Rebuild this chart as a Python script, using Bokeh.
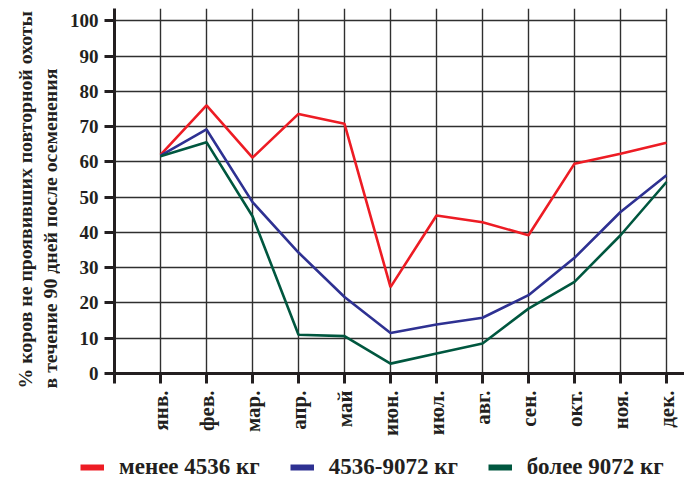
import math
from bokeh.plotting import figure
from bokeh.layouts import column, row
from bokeh.models import FixedTicker, Range1d, Legend, LegendItem, Label, ColumnDataSource
from bokeh.embed import file_html
from bokeh.resources import INLINE

# ---- data ----
months = ["янв.", "фев.", "мар.", "апр.", "май", "июн.", "июл.", "авг.", "сен.", "окт.", "ноя.", "дек."]
month_pos = list(range(1, 13))
less_4536 = [62.0, 76.0, 61.2, 73.6, 70.8, 24.5, 44.8, 42.9, 39.2, 59.5, 62.3, 65.4]
mid_4536_9072 = [61.8, 69.2, 48.6, 34.3, 21.7, 11.5, 13.9, 15.8, 22.2, 32.8, 45.8, 56.2]
over_9072 = [61.6, 65.6, 44.6, 11.0, 10.6, 2.8, 5.7, 8.5, 18.4, 26.0, 39.2, 54.3]
series_names = ["менее 4536 кг", "4536-9072 кг", "более 9072 кг"]
y_ticks = list(range(0, 101, 10))
y_title_lines = ["% коров не проявивших повторной охоты", "в течение 90 дней после осеменения"]

# ---- styles ----
FONT = "Liberation Serif"
INK = "#231f20"
colors = ["#ed1c24", "#2e3192", "#00573f"]


def bare_figure(w, h):
    f = figure(width=w, height=h, output_backend="svg", toolbar_location=None,
               x_range=Range1d(0, 1), y_range=Range1d(0, 1),
               x_axis_type=None, y_axis_type=None,
               min_border_left=0, min_border_right=0, min_border_top=0, min_border_bottom=0)
    f.outline_line_color = None
    f.xgrid.visible = False
    f.ygrid.visible = False
    f.frame_align = False
    return f


# ---- main chart ----
p = figure(width=624, height=452, output_backend="svg", toolbar_location=None,
           x_range=Range1d(0, 12.391), y_range=Range1d(0, 103.49),
           min_border_left=54, min_border_right=0, min_border_top=8, min_border_bottom=79)
p.outline_line_color = None
p.background_fill_color = "white"
p.frame_align = False

src = ColumnDataSource(dict(x=month_pos, a=less_4536, b=mid_4536_9072, c=over_9072))

for col, color in zip(["a", "b", "c"], colors):
    p.line("x", col, source=src, line_color=color, line_width=2.6)

# grids
p.xgrid.ticker = FixedTicker(ticks=[0] + month_pos)
p.ygrid.ticker = FixedTicker(ticks=y_ticks)
for g in (p.xgrid[0], p.ygrid[0]):
    g.grid_line_color = "#2f2f2f"
    g.grid_line_width = 1.4
p.ygrid[0].cross_bounds = (0, 12)

# x axis
xa = p.xaxis[0]
xa.ticker = FixedTicker(ticks=[0] + month_pos)
overrides = {0: ""}
for i, m in zip(month_pos, months):
    overrides[i] = m
xa.major_label_overrides = overrides
xa.major_label_orientation = math.pi / 2
xa.axis_line_width = 3
xa.axis_line_color = INK
xa.major_tick_line_width = 3
xa.major_tick_line_color = INK
xa.major_tick_out = 10
xa.major_tick_in = 0
xa.minor_tick_line_color = None
xa.major_label_standoff = 7
xa.major_label_text_font = FONT
xa.major_label_text_font_style = "bold"
xa.major_label_text_font_size = "21px"
xa.major_label_text_color = INK

# y axis
ya = p.yaxis[0]
ya.ticker = FixedTicker(ticks=y_ticks)
ya.axis_line_width = 3
ya.axis_line_color = INK
ya.major_tick_line_width = 3
ya.major_tick_line_color = INK
ya.major_tick_out = 10
ya.major_tick_in = 0
ya.minor_tick_line_color = None
ya.major_label_standoff = 6
ya.major_label_text_font = FONT
ya.major_label_text_font_style = "bold"
ya.major_label_text_font_size = "19px"
ya.major_label_text_color = INK

# ---- y title strip (left) ----
tf = bare_figure(60, 452)
for xb, txt in zip([24, 49], y_title_lines):
    tf.add_layout(Label(x=xb, y=64, x_units="screen", y_units="screen", text=txt,
                        angle=math.pi / 2, text_align="left", text_baseline="alphabetic",
                        text_font=FONT, text_font_style="bold", text_font_size="19.8px",
                        text_color=INK))

# ---- legend strip (bottom) ----
lg = bare_figure(684, 27)
legend_renderers = []
for col, color in zip(["a", "b", "c"], colors):
    lr = lg.line("x", col, source=src, line_color=color, line_width=6, visible=False)
    legend_renderers.append(lr)
items = [LegendItem(label=n, renderers=[r]) for n, r in zip(series_names, legend_renderers)]
legend = Legend(items=items, orientation="horizontal", location=(80, -1),
                glyph_width=24, glyph_height=26, label_height=26, label_standoff=15, spacing=30,
                padding=0, margin=0, border_line_color=None, background_fill_alpha=0,
                label_text_font=FONT, label_text_font_style="bold",
                label_text_font_size="23px", label_text_color=INK, click_policy="none")
lg.add_layout(legend)

page = column(row(tf, p, spacing=0), lg, spacing=0)
open("out.html", "w").write(file_html(page, INLINE))
